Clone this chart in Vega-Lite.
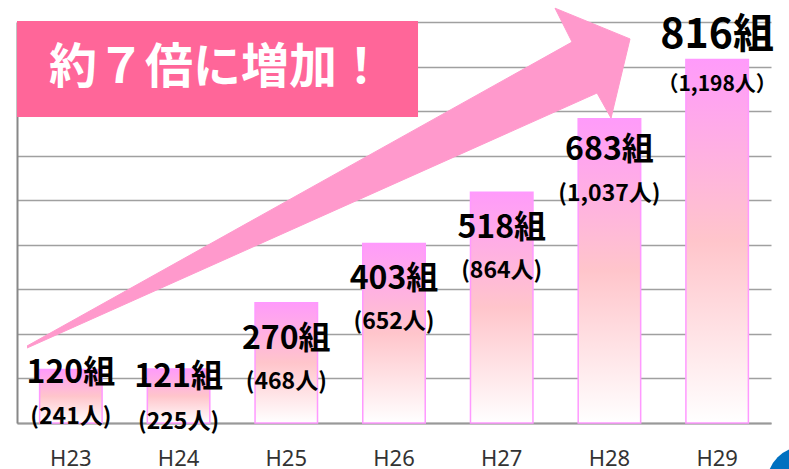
{
  "$schema": "https://vega.github.io/schema/vega-lite/v6.json",
  "width": 754,
  "height": 401,
  "autosize": {"type": "none"},
  "padding": {"left": 17, "top": 22, "right": 18, "bottom": 46},
  "background": "white",
  "config": {"view": {"stroke": null}, "font": "Noto Sans CJK JP"},
  "datasets": {
    "bars": [
      {"year": "H23", "kumi": 120, "label1": "120組", "label2": "(241人)"},
      {"year": "H24", "kumi": 121, "label1": "121組", "label2": "(225人)"},
      {"year": "H25", "kumi": 270, "label1": "270組", "label2": "(468人)"},
      {"year": "H26", "kumi": 403, "label1": "403組", "label2": "(652人)"},
      {"year": "H27", "kumi": 518, "label1": "518組", "label2": "(864人)"},
      {"year": "H28", "kumi": 683, "label1": "683組", "label2": "(1,037人)"},
      {"year": "H29", "kumi": 816, "label1": "816組", "label2": "（1,198人）"}
    ],
    "arrow": [
      {"order": 1, "x": 0.093, "y": 172.8},
      {"order": 2, "x": 5.153, "y": 855},
      {"order": 3, "x": 4.995, "y": 931},
      {"order": 4, "x": 5.691, "y": 862},
      {"order": 5, "x": 5.515, "y": 684.5},
      {"order": 6, "x": 5.385, "y": 740.6},
      {"order": 7, "x": 0.093, "y": 168.3}
    ],
    "banner": [
      {"x": 0, "x2": 3.723, "y": 686.7, "y2": 902, "text": "約７倍に増加！", "tx": 1.857, "ty": 794.4}
    ],
    "badge": [{"x": 7.3, "y": -134.6}]
  },
  "layer": [
    {
      "data": {"name": "bars"},
      "layer": [
        {
          "mark": {
            "type": "bar",
            "stroke": "#ff99ff",
            "strokeWidth": 1.5,
            "fill": {
              "gradient": "linear",
              "x1": 0, "y1": 0, "x2": 0, "y2": 1,
              "stops": [
                {"offset": 0, "color": "#ff9bfa"},
                {"offset": 0.5, "color": "#ffc5cb"},
                {"offset": 1, "color": "#ffffff"}
              ]
            }
          },
          "encoding": {
            "x": {
              "field": "year", "type": "nominal",
              "scale": {"type": "band", "paddingInner": 0.42, "paddingOuter": 0.21},
              "axis": {
                "title": null, "labelFont": "Noto Sans", "labelFontSize": 22,
                "labelColor": "#333333", "ticks": false, "labelPadding": 42,
                "labelBaseline": "alphabetic",
                "domainColor": "#999999", "domainWidth": 2, "labelAngle": 0
              }
            },
            "y": {
              "field": "kumi", "type": "quantitative",
              "scale": {"domain": [0, 900], "nice": false},
              "axis": {
                "title": null, "labels": false, "ticks": false, "grid": true,
                "gridColor": "#a0a0a0", "gridWidth": 1.6,
                "domainColor": "#888888", "domainWidth": 2,
                "values": [0, 100, 200, 300, 400, 500, 600, 700, 800, 900]
              }
            }
          }
        },
        {
          "transform": [{"filter": {"field": "year", "equal": "H23"}}],
          "mark": {"type": "text", "fontSize": 32, "fontWeight": "bold", "dy": 3, "baseline": "middle", "color": "black"},
          "encoding": {"x": {"field": "year", "type": "nominal", "bandPosition": 0.5}, "y": {"field": "kumi", "type": "quantitative"}, "text": {"field": "label1"}}
        },
        {
          "transform": [{"filter": {"field": "year", "equal": "H24"}}],
          "mark": {"type": "text", "fontSize": 32, "fontWeight": "bold", "dy": 8, "baseline": "middle", "color": "black"},
          "encoding": {"x": {"field": "year", "type": "nominal", "bandPosition": 0.5}, "y": {"field": "kumi", "type": "quantitative"}, "text": {"field": "label1"}}
        },
        {
          "transform": [{"filter": {"field": "year", "oneOf": ["H25", "H26", "H27"]}}],
          "mark": {"type": "text", "fontSize": 32, "fontWeight": "bold", "dy": 36, "baseline": "middle", "color": "black"},
          "encoding": {"x": {"field": "year", "type": "nominal", "bandPosition": 0.5}, "y": {"field": "kumi", "type": "quantitative"}, "text": {"field": "label1"}}
        },
        {
          "transform": [{"filter": {"field": "year", "equal": "H28"}}],
          "mark": {"type": "text", "fontSize": 32, "fontWeight": "bold", "dy": 31, "baseline": "middle", "color": "black"},
          "encoding": {"x": {"field": "year", "type": "nominal", "bandPosition": 0.5}, "y": {"field": "kumi", "type": "quantitative"}, "text": {"field": "label1"}}
        },
        {
          "transform": [{"filter": {"field": "year", "equal": "H29"}}],
          "mark": {"type": "text", "fontSize": 41, "fontWeight": "bold", "dy": -23, "baseline": "middle", "color": "black"},
          "encoding": {"x": {"field": "year", "type": "nominal", "bandPosition": 0.5}, "y": {"field": "kumi", "type": "quantitative"}, "text": {"field": "label1"}}
        },
        {
          "transform": [{"filter": {"field": "year", "equal": "H23"}}],
          "mark": {"type": "text", "fontSize": 23, "fontWeight": "bold", "dy": 47, "baseline": "middle", "color": "black"},
          "encoding": {"x": {"field": "year", "type": "nominal", "bandPosition": 0.5}, "y": {"field": "kumi", "type": "quantitative"}, "text": {"field": "label2"}}
        },
        {
          "transform": [{"filter": {"field": "year", "equal": "H24"}}],
          "mark": {"type": "text", "fontSize": 23, "fontWeight": "bold", "dy": 53, "baseline": "middle", "color": "black"},
          "encoding": {"x": {"field": "year", "type": "nominal", "bandPosition": 0.5}, "y": {"field": "kumi", "type": "quantitative"}, "text": {"field": "label2"}}
        },
        {
          "transform": [{"filter": {"field": "year", "oneOf": ["H25", "H26", "H27"]}}],
          "mark": {"type": "text", "fontSize": 23, "fontWeight": "bold", "dy": 79, "baseline": "middle", "color": "black"},
          "encoding": {"x": {"field": "year", "type": "nominal", "bandPosition": 0.5}, "y": {"field": "kumi", "type": "quantitative"}, "text": {"field": "label2"}}
        },
        {
          "transform": [{"filter": {"field": "year", "equal": "H28"}}],
          "mark": {"type": "text", "fontSize": 23, "fontWeight": "bold", "dy": 75, "baseline": "middle", "color": "black"},
          "encoding": {"x": {"field": "year", "type": "nominal", "bandPosition": 0.5}, "y": {"field": "kumi", "type": "quantitative"}, "text": {"field": "label2"}}
        },
        {
          "transform": [{"filter": {"field": "year", "equal": "H29"}}],
          "mark": {"type": "text", "fontSize": 21, "fontWeight": "bold", "dy": 26, "baseline": "middle", "color": "black"},
          "encoding": {"x": {"field": "year", "type": "nominal", "bandPosition": 0.5}, "y": {"field": "kumi", "type": "quantitative"}, "text": {"field": "label2"}}
        }
      ]
    },
    {
      "layer": [
        {
          "data": {"name": "banner"},
          "mark": {"type": "rect", "fill": "#ff6699"},
          "encoding": {
            "x": {"field": "x", "type": "quantitative", "scale": {"domain": [0, 7], "nice": false, "zero": false}, "axis": null},
            "x2": {"field": "x2"},
            "y": {"field": "y", "type": "quantitative", "scale": {"domain": [0, 900], "nice": false}, "axis": null},
            "y2": {"field": "y2"}
          }
        },
        {
          "data": {"name": "banner"},
          "mark": {"type": "text", "fontSize": 48, "fontWeight": "bold", "color": "white", "baseline": "middle", "align": "center"},
          "encoding": {
            "x": {"field": "tx", "type": "quantitative", "scale": {"domain": [0, 7], "nice": false, "zero": false}, "axis": null},
            "y": {"field": "ty", "type": "quantitative", "scale": {"domain": [0, 900], "nice": false}, "axis": null},
            "text": {"field": "text"}
          }
        },
        {
          "data": {"name": "arrow"},
          "mark": {"type": "line", "fill": "#ff99cc", "color": "#ff99cc", "strokeWidth": 1},
          "encoding": {
            "x": {"field": "x", "type": "quantitative", "scale": {"domain": [0, 7], "nice": false, "zero": false}, "axis": null},
            "y": {"field": "y", "type": "quantitative", "scale": {"domain": [0, 900], "nice": false}, "axis": null},
            "order": {"field": "order", "type": "quantitative"}
          }
        },
        {
          "data": {"name": "badge"},
          "mark": {"type": "circle", "size": 5281, "color": "#0070c0", "opacity": 1},
          "encoding": {
            "x": {"field": "x", "type": "quantitative", "scale": {"domain": [0, 7], "nice": false, "zero": false}, "axis": null},
            "y": {"field": "y", "type": "quantitative", "scale": {"domain": [0, 900], "nice": false}, "axis": null}
          }
        }
      ]
    }
  ],
  "resolve": {"scale": {"x": "independent"}, "axis": {"y": "independent"}}
}
